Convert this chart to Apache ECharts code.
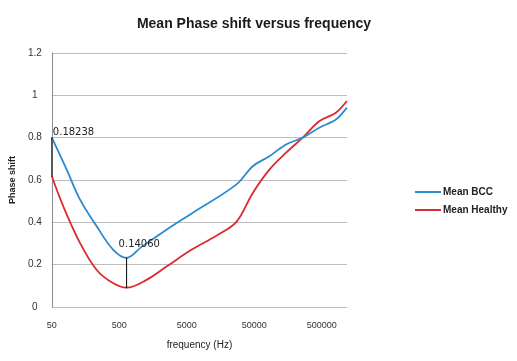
<!DOCTYPE html>
<html>
<head>
<meta charset="utf-8">
<script src="https://cdn.jsdelivr.net/npm/echarts@6/dist/echarts.min.js"></script>
<style>html,body{margin:0;padding:0;background:#fff}#c{width:517px;height:361px}</style>
</head>
<body>
<div id="c"></div>
<script>
// ---- data ----
var titleText = 'Mean Phase shift versus frequency';
var baseFreq = 50; // Hz, first tick
var tickLabels = ['50', '500', '5000', '50000', '500000'];
var bccFreq = [50, 83, 131, 231, 407, 641, 1067, 2500, 5850, 27000, 47600, 83800, 148000, 261000, 459000, 811000, 1180000];
var bccPhase = [0.800, 0.649, 0.507, 0.381, 0.270, 0.232, 0.284, 0.365, 0.441, 0.578, 0.665, 0.712, 0.768, 0.800, 0.847, 0.886, 0.942];
var healthyFreq = [50, 74, 131, 231, 407, 641, 1265, 2500, 5850, 13700, 27000, 47600, 83800, 148000, 261000, 459000, 811000, 1180000];
var healthyPhase = [0.618, 0.475, 0.302, 0.175, 0.112, 0.0915, 0.128, 0.191, 0.270, 0.337, 0.401, 0.539, 0.649, 0.729, 0.800, 0.878, 0.918, 0.973];
var diffFreq = [50, 641];
var diffLow = [0.618, 0.0915];
var diffHigh = [0.800, 0.232];
var diffLabels = ['0.18238', '0.14060'];
var freqMax = 1185000;

function pts(f, v) { return f.map(function (x, i) { return [x / baseFreq, v[i]]; }); }

var diffSeries = diffFreq.map(function (f, i) {
  return {
    type: 'line', name: 'diff' + i, silent: true,
    symbol: 'circle', symbolSize: 1, showSymbol: true,
    lineStyle: { color: '#000', width: 1 }, itemStyle: { color: '#000' },
    data: [
      { value: [f / baseFreq, diffLow[i]] },
      { value: [f / baseFreq, diffHigh[i]], label: {
          show: true, position: 'top', align: 'left', formatter: diffLabels[i],
          offset: i === 0 ? [1, 5] : [-8, -3],
          fontFamily: 'DejaVu Sans', fontSize: 10, color: '#222' } }
    ],
    z: 5
  };
});

var chart = echarts.init(document.getElementById('c'), null, { renderer: 'canvas' });
chart.setOption({
  animation: false,
  backgroundColor: '#fff',
  title: {
    text: titleText, left: 249, top: 12, textAlign: 'center',
    textStyle: { fontFamily: 'Liberation Sans', fontSize: 14, fontWeight: 'bold', color: '#1a1a1a' }
  },
  legend: {
    orient: 'vertical', left: 410, top: 182,
    data: ['Mean BCC', 'Mean Healthy'],
    icon: 'rect', itemWidth: 26, itemHeight: 2, itemGap: 8,
    textStyle: { fontFamily: 'Liberation Sans', fontSize: 10, fontWeight: 'bold', color: '#222', padding: [0, 0, 0, -3] }
  },
  grid: { left: 50, right: 170, top: 53, bottom: 54 },
  xAxis: {
    type: 'log', logBase: 10, min: 1, max: freqMax / baseFreq,
    name: 'frequency (Hz)', nameLocation: 'middle', nameGap: 33,
    nameTextStyle: { fontFamily: 'Liberation Sans', fontSize: 10, color: '#222' },
    axisLine: { show: false }, axisTick: { show: false }, splitLine: { show: false },
    axisLabel: {
      margin: 14, fontFamily: 'Liberation Sans', fontSize: 9, color: '#333',
      showMaxLabel: false,
      formatter: function (v) {
        var e = Math.round(Math.log10(v));
        if (Math.abs(Math.log10(v) - e) > 1e-6) return '';
        return tickLabels[e] || '';
      }
    }
  },
  yAxis: {
    type: 'value', min: 0, max: 1.2, interval: 0.2,
    name: 'Phase shift', nameLocation: 'middle', nameGap: 34, nameRotate: 90,
    nameTextStyle: { fontFamily: 'Liberation Sans', fontSize: 9, fontWeight: 'bold', color: '#222' },
    axisLine: { show: true, lineStyle: { color: '#8c8c8c', width: 1 } },
    axisTick: { show: false },
    splitLine: { show: true, lineStyle: { color: '#bdbdbd', width: 1 } },
    axisLabel: { margin: 17, align: 'center', fontFamily: 'Liberation Sans', fontSize: 10, color: '#333' }
  },
  series: [
    {
      type: 'line', name: 'Mean BCC', data: pts(bccFreq, bccPhase),
      smooth: 0.35, showSymbol: false, symbol: 'none',
      lineStyle: { color: '#2b8bd0', width: 1.8 }, itemStyle: { color: '#2b8bd0' }, z: 3
    },
    {
      type: 'line', name: 'Mean Healthy', data: pts(healthyFreq, healthyPhase),
      smooth: 0.35, showSymbol: false, symbol: 'none',
      lineStyle: { color: '#dc2a2e', width: 1.8 }, itemStyle: { color: '#dc2a2e' }, z: 2
    }
  ].concat(diffSeries)
});
</script>
</body>
</html>
